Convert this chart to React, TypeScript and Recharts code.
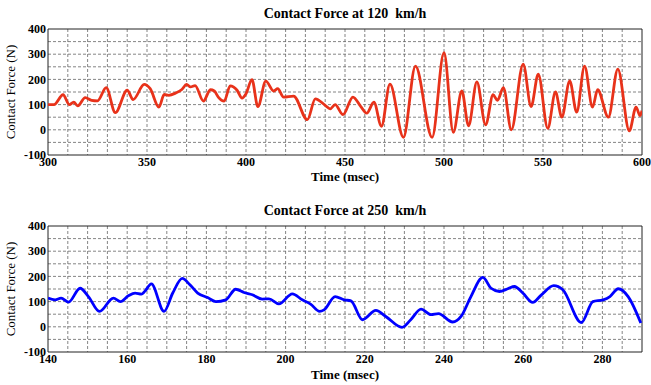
import React from "react";
import {
  LineChart,
  Line,
  XAxis,
  YAxis,
  CartesianGrid,
  ReferenceArea,
  Label,
} from "recharts";

// time (msec) and contact force (N)
const time120 = [
  300, 303, 307.6, 310.8, 313, 315, 318.8, 322, 325, 329.4, 334, 340, 343,
  348.6, 351.6, 356, 358.7, 361, 364.5, 367.6, 370, 372, 374.3, 378.5, 382,
  384, 386, 389, 392, 395.5, 398, 400, 403, 406, 410, 414, 416, 419, 424, 431,
  435, 440, 442.5, 445, 449, 454, 458, 461, 464.6, 468.4, 472.7, 479.5, 485.6,
  494, 500, 504.7, 509, 512.4, 516.6, 521, 524.8, 527, 530, 534, 540, 544,
  547.6, 552.4, 556.3, 559.5, 563.5, 567, 571, 575, 577.6, 583, 587.8, 593.6,
  597, 599, 600,
];
const force120 = [
  100, 100, 139, 100, 110, 95, 128, 117, 115, 167, 68, 157, 120, 180, 163, 90,
  140, 137, 146, 160, 180, 170, 175, 114, 159, 154, 130, 114, 174, 157, 126,
  143, 199, 92, 193, 154, 163, 130, 134, 40, 123, 97, 83, 100, 60, 130, 92, 66,
  110, 14, 181, -30, 253, -30, 306, -10, 154, 16, 190, 20, 139, 117, 167, 0,
  261, 92, 221, 6, 150, 50, 194, 70, 253, 90, 159, 50, 241, -4, 90, 56, 76,
];

const time250 = [
  140, 141.8, 143.3, 145.2, 148.1, 150.2, 153, 156.5, 158.3, 160.3, 162, 163.6,
  164.4, 166.1, 169.3, 171.5, 173.9, 175.7, 177.8, 180.3, 182.4, 184.9, 187.4,
  189.5, 191.6, 194.1, 195.8, 198.3, 201.7, 204.2, 206.3, 208.6, 209.7, 212.5,
  214.8, 216.5, 219.4, 222.8, 225.3, 229.4, 231.6, 234.2, 236.7, 238.6, 242.2,
  244.3, 246.8, 249.8, 251.9, 254, 256.1, 257.8, 259.9, 262.4, 264.6, 267.7,
  270, 274.7, 277.6, 280.2, 281.9, 284, 286.5, 289.7,
];
const force250 = [
  114, 107, 114, 98, 153, 120, 61, 114, 100, 123, 134, 130, 140, 170, 61, 134,
  192, 169, 134, 116, 100, 107, 149, 136, 127, 110, 111, 91, 131, 107, 90, 61,
  67, 120, 107, 103, 28, 65, 41, -2, 28, 70, 48, 52, 19, 41, 120, 196, 153,
  140, 151, 160, 134, 97, 127, 163, 147, 17, 100, 107, 120, 151, 120, 15,
];

const yTicks = [-100, 0, 100, 200, 300, 400];
const yGrid = [-50, 0, 50, 100, 150, 200, 250, 300, 350];
const xTicks120 = [300, 350, 400, 450, 500, 550, 600];
const xGrid120 = Array.from({ length: 29 }, (_, i) => 310 + i * 10);
const xTicks250 = [140, 160, 180, 200, 220, 240, 260, 280];
const xGrid250 = Array.from({ length: 29 }, (_, i) => 145 + i * 5);

const serif = "Liberation Serif, serif";

interface PanelProps {
  title: string;
  times: number[];
  forces: number[];
  xDomain: [number, number];
  xTicks: number[];
  xGrid: number[];
  color: string;
  height: number;
  top: number;
  xLabelOffset: number;
}

function Panel({
  title,
  times,
  forces,
  xDomain,
  xTicks,
  xGrid,
  color,
  height,
  top,
  xLabelOffset,
}: PanelProps) {
  const data = times.map((t, i) => ({ t, f: forces[i] }));
  const tickStyle = {
    fontFamily: serif,
    fontSize: 12,
    fontWeight: "bold",
    fill: "#000",
  };
  return (
    <div style={{ position: "relative", width: 651, height }}>
      <div
        style={{
          position: "absolute",
          top: top - 23,
          left: 48,
          width: 594,
          textAlign: "center",
          fontFamily: serif,
          fontWeight: "bold",
          fontSize: 14,
          whiteSpace: "pre",
        }}
      >
        {title}
      </div>
      <LineChart
        width={651}
        height={height}
        data={data}
        margin={{ top, right: 9, left: 0, bottom: 0 }}
      >
        <CartesianGrid
          stroke="#666"
          strokeDasharray="3 2"
          strokeWidth={0.8}
          verticalValues={xGrid}
          horizontalValues={yGrid}
        />
        <XAxis
          dataKey="t"
          type="number"
          domain={xDomain}
          ticks={xTicks}
          allowDataOverflow
          height={height - top - 126}
          axisLine={false}
          tickLine={false}
          tickSize={0}
          tickMargin={2}
          tick={tickStyle}
          interval={0}
        >
          <Label
            value="Time (msec)"
            position="insideBottom"
            offset={xLabelOffset}
            style={{
              fontFamily: serif,
              fontSize: 13,
              fontWeight: "bold",
              fill: "#000",
            }}
          />
        </XAxis>
        <YAxis
          type="number"
          domain={[-100, 400]}
          ticks={yTicks}
          allowDataOverflow
          width={48}
          axisLine={false}
          tickLine={false}
          tickSize={0}
          tickMargin={2}
          tick={tickStyle}
          interval={0}
        >
          <Label
            value="Contact Force (N)"
            angle={-90}
            position="insideLeft"
            offset={0}
            dx={10}
            style={{
              fontFamily: serif,
              fontSize: 13,
              fill: "#000",
              textAnchor: "middle",
            }}
          />
        </YAxis>
        <ReferenceArea
          x1={xDomain[0]}
          x2={xDomain[1]}
          y1={-100}
          y2={400}
          fill="none"
          stroke="#222"
          strokeWidth={1}
          ifOverflow="extendDomain"
        />
        <Line
          type="monotone"
          dataKey="f"
          stroke={color}
          strokeWidth={2.8}
          dot={false}
          activeDot={false}
          isAnimationActive={false}
        />
      </LineChart>
    </div>
  );
}

export default function App() {
  return (
    <div
      style={{
        position: "absolute",
        top: 0,
        left: 0,
        width: 651,
        height: 385,
        background: "#fff",
      }}
    >
      <Panel
        title="Contact Force at 120  km/h"
        times={time120}
        forces={force120}
        xDomain={[300, 600]}
        xTicks={xTicks120}
        xGrid={xGrid120}
        color="#e8321a"
        height={190}
        top={29}
        xLabelOffset={9}
      />
      <Panel
        title="Contact Force at 250  km/h"
        times={time250}
        forces={force250}
        xDomain={[140, 290]}
        xTicks={xTicks250}
        xGrid={xGrid250}
        color="#0000ff"
        height={195}
        top={36}
        xLabelOffset={6}
      />
    </div>
  );
}
